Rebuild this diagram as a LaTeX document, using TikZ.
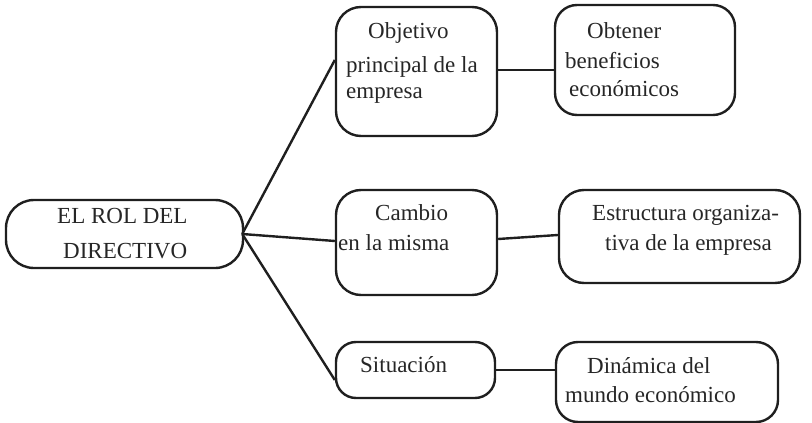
\documentclass[tikz,border=0pt]{standalone}
\usepackage{fontspec}
\setmainfont{Liberation Serif}
\begin{document}
\begin{tikzpicture}[x=1pt,y=-1pt,
  box/.style={draw, line width=2.4pt, inner sep=0pt, color=black!88},
  txt/.style={anchor=base west, inner sep=0pt, text=black!85, font=\fontsize{23}{28}\selectfont},
  link/.style={line width=2.4pt, color=black!88}]
\useasboundingbox (0,0) rectangle (812,423);
% boxes
\node[box, rounded corners=28pt, minimum width=237pt, minimum height=68pt] (root) at (124.5,234) {};
\node[box, rounded corners=25pt, minimum width=161pt, minimum height=129pt] (obj) at (416.5,71.5) {};
\node[box, rounded corners=22pt, minimum width=180pt, minimum height=110pt] (obt) at (645,60) {};
\node[box, rounded corners=25pt, minimum width=161pt, minimum height=105pt] (cam) at (416.5,242.5) {};
\node[box, rounded corners=25pt, minimum width=241pt, minimum height=93pt] (est) at (679.5,236.5) {};
\node[box, rounded corners=20pt, minimum width=159pt, minimum height=56pt] (sit) at (415.5,370) {};
\node[box, rounded corners=22pt, minimum width=222pt, minimum height=80pt] (din) at (667,382) {};
% texts
\node[txt] (root1) at (57,223) {EL ROL DEL};
\node[txt] (root2) at (63,258) {DIRECTIVO};
\node[txt] (obj1) at (368,38) {Objetivo};
\node[txt] (obj2) at (346,72) {principal de la};
\node[txt] (obj3) at (346,98) {empresa};
\node[txt] (obt1) at (587,38) {Obtener};
\node[txt] (obt2) at (565,68) {beneficios};
\node[txt] (obt3) at (569,96) {económicos};
\node[txt] (cam1) at (375,220) {Cambio};
\node[txt] (cam2) at (338,250) {en la misma};
\node[txt] (est1) at (592,220) {Estructura organiza-};
\node[txt] (est2) at (605,250) {tiva de la empresa};
\node[txt] (sit1) at (360,372) {Situación};
\node[txt] (din1) at (587,373) {Dinámica del};
\node[txt] (din2) at (565,402) {mundo económico};
% connectors
\coordinate (hub) at ([xshift=-2pt]root.east);
\draw[link] (hub) -- ([yshift=11.5pt]obj.west);
\draw[link] (hub) -- ([yshift=1.5pt]cam.west);
\draw[link] (hub) -- ([yshift=-10pt]sit.west);
\draw[link] ([yshift=1.5pt]obj.east) -- ([yshift=-10pt]obt.west);
\draw[link] ([yshift=3.5pt]cam.east) -- ([yshift=1.5pt]est.west);
\draw[link] (sit.east) -- ([yshift=12pt]din.west);
\end{tikzpicture}
\end{document}
